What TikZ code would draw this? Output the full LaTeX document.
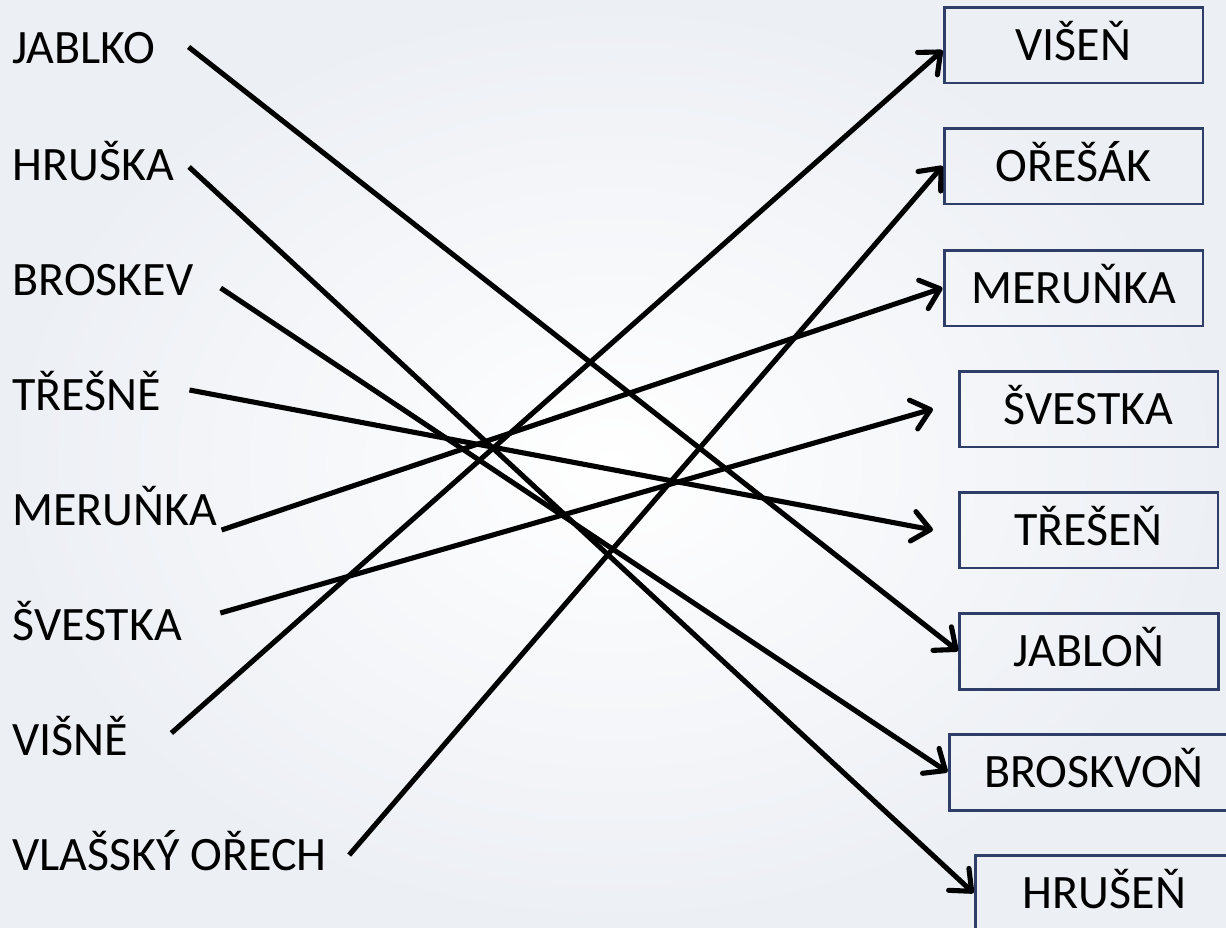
\documentclass[tikz,border=0pt]{standalone}
\usepackage{fontspec}
\setmainfont{Carlito}
\usetikzlibrary{arrows.meta}
\definecolor{boxblue}{RGB}{47,61,105}
\definecolor{bgedge}{RGB}{236,239,244}

\begin{document}
\begin{tikzpicture}[x=0.02cm,y=-0.02cm,font=\fontsize{27.3pt}{30pt}\selectfont,
  text height=17.2pt,text depth=0pt,
  fruit/.style={anchor=west,inner sep=0pt},
  tree/.style={draw=boxblue,line width=1.7pt,minimum width=5.18cm,minimum height=1.52cm},
  match/.style={line width=2.9pt,-{Straight Barb[length=10pt,width=17pt,round]}}]
\useasboundingbox (0,0) rectangle (1226,927);
\clip (0,0) rectangle (1226,927);
\shade[inner color=white,outer color=bgedge] (0,0) rectangle (1226,927);

% fruits
\node[fruit] (jablko)  at (12, 48) {JABLKO};
\node[fruit] (hruska)  at (12,165) {HRUŠKA};
\node[fruit] (broskev) at (12,280) {BROSKEV};
\node[fruit] (tresne)  at (12,395) {TŘEŠNĚ};
\node[fruit] (merunka) at (12,510) {MERUŇKA};
\node[fruit] (svestka) at (12,625) {ŠVESTKA};
\node[fruit] (visne)   at (12,740) {VIŠNĚ};
\node[fruit] (orech)   at (12,855) {VLAŠSKÝ OŘECH};

% trees
\node[tree] (visen)     at (1073.5, 45) {VIŠEŇ};
\node[tree] (oresak)    at (1073.5,166) {OŘEŠÁK};
\node[tree] (merunkaT)  at (1073.5,288) {MERUŇKA};
\node[tree] (svestkaT)  at (1088.5,409) {ŠVESTKA};
\node[tree] (tresen)    at (1088.5,530) {TŘEŠEŇ};
\node[tree] (jablon)    at (1089,  651) {JABLOŇ};
\node[tree,minimum width=5.8cm] (broskvon) at (1094,772) {BROSKVOŇ};
\node[tree] (hrusen)    at (1104.5,893) {HRUŠEŇ};

% matches
\draw[match] ([shift={(33,-1)}]jablko.east)  -- (jablon.west);
\draw[match] ([shift={(15,2)}]hruska.east)   -- (hrusen.west);
\draw[match] ([shift={(27,8)}]broskev.east)  -- (broskvon.west);
\draw[match] ([shift={(28,-5)}]tresne.east)  -- ([xshift=-14]tresen.west);
\draw[match] ([shift={(4,20)}]merunka.east)  -- (merunkaT.west);
\draw[match] ([shift={(38,-12)}]svestka.east) -- ([xshift=-14]svestkaT.west);
\draw[match] ([shift={(43,-7)}]visne.east)   -- ([yshift=-3]visen.west);
\draw[match] ([shift={(22,0)}]orech.east)    -- (oresak.west);
\end{tikzpicture}
\end{document}
